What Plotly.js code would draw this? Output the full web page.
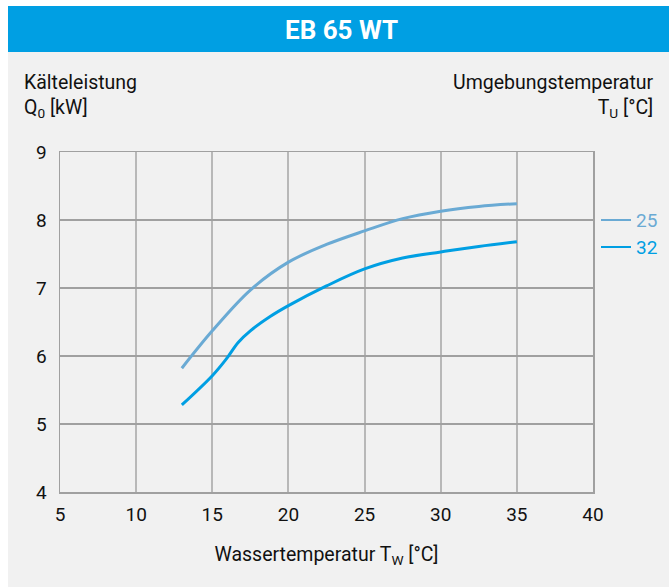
<!DOCTYPE html>
<html>
<head>
<meta charset="utf-8">
<script src="https://cdn.plot.ly/plotly-3.0.1.min.js"></script>
<style>html,body{margin:0;padding:0;background:#fff;}#chart{width:669px;height:587px;}</style>
</head>
<body>
<div id="chart"></div>
<script>
const seriesNames = ["25", "32"];
const xs25 = [13, 15, 17.5, 20, 22.5, 25, 27.5, 30, 32.5, 35];
const ys25 = [5.82, 6.37, 6.97, 7.38, 7.64, 7.84, 8.02, 8.13, 8.20, 8.24];
const xs32 = [13, 15, 15.9, 16.7, 17.5, 18.8, 20, 22.5, 25, 27.5, 30, 32.5, 35];
const ys32 = [5.28, 5.71, 5.95, 6.20, 6.37, 6.58, 6.74, 7.03, 7.28, 7.44, 7.53, 7.61, 7.68];
const xTicks = [5, 10, 15, 20, 25, 30, 35, 40];
const yTicks = [4, 5, 6, 7, 8, 9];
const colors = ["#6aaad4", "#009fe3"];

const FONT = "Roboto, Liberation Sans Narrow, sans-serif";
const W = 669, H = 587, ML = 60, MR = 76, MT = 152, MB = 95;
const PW = W - ML - MR, PH = H - MT - MB;
const px = x => (x - ML) / PW;
const py = y => (H - MB - y) / PH;

const traces = [
  {x: xs25, y: ys25, name: seriesNames[0], mode: "lines", line: {color: colors[0], width: 3, shape: "spline", smoothing: 1}, hoverinfo: "skip"},
  {x: xs32, y: ys32, name: seriesNames[1], mode: "lines", line: {color: colors[1], width: 3, shape: "spline", smoothing: 1}, hoverinfo: "skip"}
];

const layout = {
  width: W, height: H,
  margin: {l: ML, r: MR, t: MT, b: MB, pad: 0},
  paper_bgcolor: "#ffffff",
  plot_bgcolor: "#f1f1f1",
  showlegend: false,
  font: {family: FONT, size: 19, color: "#111"},
  xaxis: {
    range: [5, 40], tickvals: xTicks, ticktext: xTicks.map(String),
    showgrid: true, gridcolor: "#b8b8b8", gridwidth: 2,
    showline: true, linecolor: "#a0a0a0", linewidth: 1.5, mirror: true,
    zeroline: false, ticks: "", ticklabelstandoff: 5,
    tickfont: {family: FONT, size: 19, color: "#111"},
    title: {text: "Wassertemperatur T<sub>W</sub> [°C]", font: {family: FONT, size: 19.5, color: "#111"}, standoff: 22}
  },
  yaxis: {
    range: [4, 9], tickvals: yTicks, ticktext: yTicks.map(String),
    showgrid: true, gridcolor: "#a0a0a0", gridwidth: 1.5,
    showline: true, linecolor: "#a0a0a0", linewidth: 1.5, mirror: true,
    zeroline: false, ticks: "", ticklabelstandoff: 8,
    tickfont: {family: FONT, size: 19, color: "#111"}
  },
  shapes: [
    {type: "rect", xref: "paper", yref: "paper", x0: px(8), x1: px(669), y0: py(587), y1: py(52), fillcolor: "#f1f1f1", line: {width: 0}, layer: "below"},
    {type: "rect", xref: "paper", yref: "paper", x0: px(8), x1: px(669), y0: py(52), y1: py(6), fillcolor: "#009fe3", line: {width: 0}, layer: "below"},
    {type: "line", xref: "paper", yref: "paper", x0: px(601), x1: px(631), y0: py(220), y1: py(220), line: {color: colors[0], width: 2}},
    {type: "line", xref: "paper", yref: "paper", x0: px(601), x1: px(631), y0: py(247), y1: py(247), line: {color: colors[1], width: 2}}
  ],
  annotations: [
    {xref: "paper", yref: "paper", x: px(341), y: py(30), text: "<b>EB 65 WT</b>", showarrow: false, xanchor: "center", yanchor: "middle", font: {family: FONT, size: 26, color: "#ffffff"}},
    {xref: "paper", yref: "paper", x: px(22), y: py(96), text: "Kälteleistung<br>Q<sub>0</sub> [kW]", showarrow: false, xanchor: "left", yanchor: "middle", align: "left", font: {family: FONT, size: 19.5, color: "#111"}},
    {xref: "paper", yref: "paper", x: px(656), y: py(96), text: "Umgebungstemperatur<br>T<sub>U</sub> [°C]", showarrow: false, xanchor: "right", yanchor: "middle", align: "right", font: {family: FONT, size: 19.5, color: "#111"}},
    {xref: "paper", yref: "paper", x: px(634), y: py(220), text: seriesNames[0], showarrow: false, xanchor: "left", yanchor: "middle", font: {family: FONT, size: 19, color: colors[0]}},
    {xref: "paper", yref: "paper", x: px(634), y: py(247), text: seriesNames[1], showarrow: false, xanchor: "left", yanchor: "middle", font: {family: FONT, size: 19, color: colors[1]}}
  ]
};

Plotly.newPlot("chart", traces, layout, {displayModeBar: false, staticPlot: true});
</script>
</body>
</html>
